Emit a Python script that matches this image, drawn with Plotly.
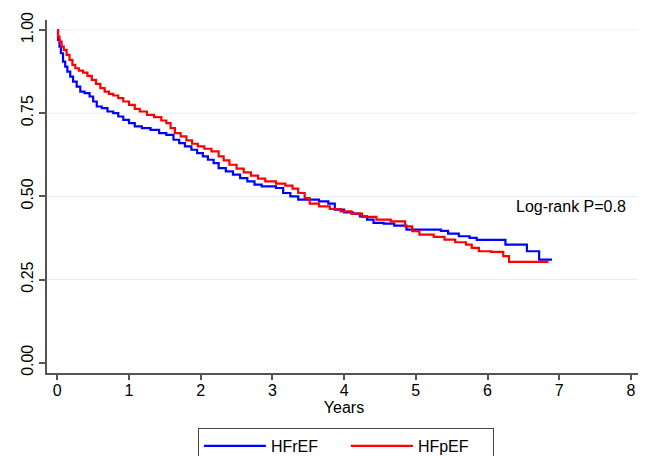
import plotly.graph_objects as go

# HFrEF Kaplan-Meier estimate (years, survival)
hfref_t = [0, 0.01, 0.03, 0.05, 0.08, 0.11, 0.14, 0.18, 0.22, 0.27, 0.32, 0.38, 0.45, 0.50, 0.55,
           0.62, 0.70, 0.78, 0.85, 0.92, 1.00, 1.08, 1.18, 1.30, 1.42, 1.52, 1.62, 1.70, 1.78, 1.87,
           1.95, 2.03, 2.10, 2.18, 2.25, 2.35, 2.45, 2.55, 2.65, 2.75, 2.85, 3.05, 3.15, 3.25, 3.36,
           3.50, 3.65, 3.78, 3.87, 4.00, 4.12, 4.22, 4.32, 4.41, 4.55, 4.70, 4.87, 5.35, 5.45, 5.60,
           5.75, 5.85, 6.25, 6.55, 6.72, 6.90]
hfref_s = [1.0, 0.97, 0.95, 0.93, 0.905, 0.89, 0.875, 0.86, 0.845, 0.83, 0.815, 0.81, 0.80, 0.785, 0.77,
           0.765, 0.755, 0.75, 0.74, 0.73, 0.72, 0.71, 0.705, 0.70, 0.69, 0.685, 0.67, 0.66, 0.65, 0.64,
           0.63, 0.62, 0.61, 0.60, 0.585, 0.575, 0.565, 0.555, 0.545, 0.535, 0.53, 0.525, 0.51, 0.50, 0.49,
           0.49, 0.485, 0.478, 0.46, 0.452, 0.448, 0.44, 0.43, 0.42, 0.418, 0.412, 0.40, 0.396, 0.388, 0.38,
           0.375, 0.369, 0.355, 0.335, 0.31, 0.31]

# HFpEF Kaplan-Meier estimate (years, survival)
hfpef_t = [0, 0.01, 0.03, 0.06, 0.09, 0.13, 0.17, 0.21, 0.25, 0.30, 0.36, 0.42, 0.48, 0.54, 0.60,
           0.66, 0.72, 0.78, 0.85, 0.92, 1.00, 1.08, 1.15, 1.25, 1.35, 1.45, 1.52, 1.58, 1.64, 1.72,
           1.80, 1.88, 1.96, 2.05, 2.15, 2.25, 2.32, 2.40, 2.50, 2.60, 2.70, 2.80, 2.90, 3.05, 3.18,
           3.28, 3.36, 3.45, 3.52, 3.65, 3.80, 3.95, 4.10, 4.25, 4.45, 4.65, 4.85, 4.95, 5.05, 5.25,
           5.40, 5.55, 5.70, 5.78, 5.88, 6.05, 6.22, 6.30, 6.85]
hfpef_s = [1.0, 0.98, 0.965, 0.95, 0.94, 0.925, 0.91, 0.895, 0.885, 0.878, 0.872, 0.862, 0.85, 0.838, 0.825,
           0.815, 0.808, 0.803, 0.795, 0.785, 0.775, 0.763, 0.755, 0.745, 0.738, 0.728, 0.72, 0.705, 0.69, 0.68,
           0.668, 0.658, 0.65, 0.643, 0.635, 0.62, 0.608, 0.595, 0.583, 0.572, 0.562, 0.553, 0.545, 0.538, 0.532,
           0.523, 0.51, 0.495, 0.478, 0.47, 0.462, 0.455, 0.448, 0.438, 0.43, 0.425, 0.41, 0.395, 0.385, 0.378,
           0.37, 0.362, 0.355, 0.345, 0.335, 0.333, 0.32, 0.303, 0.303]

x_ticks = [0, 1, 2, 3, 4, 5, 6, 7, 8]
y_ticks = [0, 0.25, 0.5, 0.75, 1.0]
y_tick_labels = ["0.00", "0.25", "0.50", "0.75", "1.00"]
grid_vals = [0.25, 0.5, 0.75, 1.0]
annotation_text = "Log-rank P=0.8"
annot_x, annot_y = 7.16, 0.469

FONT = "Helvetica, Arial, Liberation Sans, sans-serif"

fig = go.Figure()
fig.add_trace(go.Scatter(x=hfref_t, y=hfref_s, mode="lines", name="HFrEF",
                         line=dict(color="#0000ff", width=2.2, shape="hv")))
fig.add_trace(go.Scatter(x=hfpef_t, y=hfpef_s, mode="lines", name="HFpEF",
                         line=dict(color="#ff0000", width=2.2, shape="hv")))

for g in grid_vals:
    fig.add_shape(type="line", xref="paper", x0=0, x1=1, yref="y", y0=g, y1=g,
                  line=dict(color="#e6eef1", width=1), layer="below")

fig.add_annotation(x=annot_x, y=annot_y, text=annotation_text, showarrow=False,
                   font=dict(size=16, color="black", family=FONT))

# page has an 8px body margin, so the figure is sized/offset to compensate
fig.update_layout(
    width=638, height=448,
    margin=dict(l=39, r=5, t=12, b=83, autoexpand=False),
    paper_bgcolor="white", plot_bgcolor="white",
    font=dict(family=FONT, size=16, color="black"),
    showlegend=True,
    legend=dict(orientation="h", x=0.254, xanchor="left", y=-0.156, yanchor="top",
                bordercolor="#444444", borderwidth=1, font=dict(size=16),
                itemwidth=62, entrywidth=70, entrywidthmode="pixels", traceorder="normal"),
    xaxis=dict(range=[-0.144, 8.141], tickvals=x_ticks, showgrid=False, zeroline=False,
               showline=True, linecolor="#555555", linewidth=1.5, ticks="outside", ticklen=5,
               tickcolor="#555555", tickwidth=1.5, title=dict(text="Years", standoff=2, font=dict(size=16)),
               tickfont=dict(size=16), automargin=False, ticklabelstandoff=-3),
    yaxis=dict(range=[-0.031, 1.030], tickvals=y_ticks, ticktext=y_tick_labels, showgrid=False,
               zeroline=False, showline=True, linecolor="#555555", linewidth=1.5, ticks="outside",
               ticklen=6, tickcolor="#555555", tickwidth=1.5, tickangle=-90, tickfont=dict(size=16),
               automargin=False),
)

fig.write_html("out.html")
